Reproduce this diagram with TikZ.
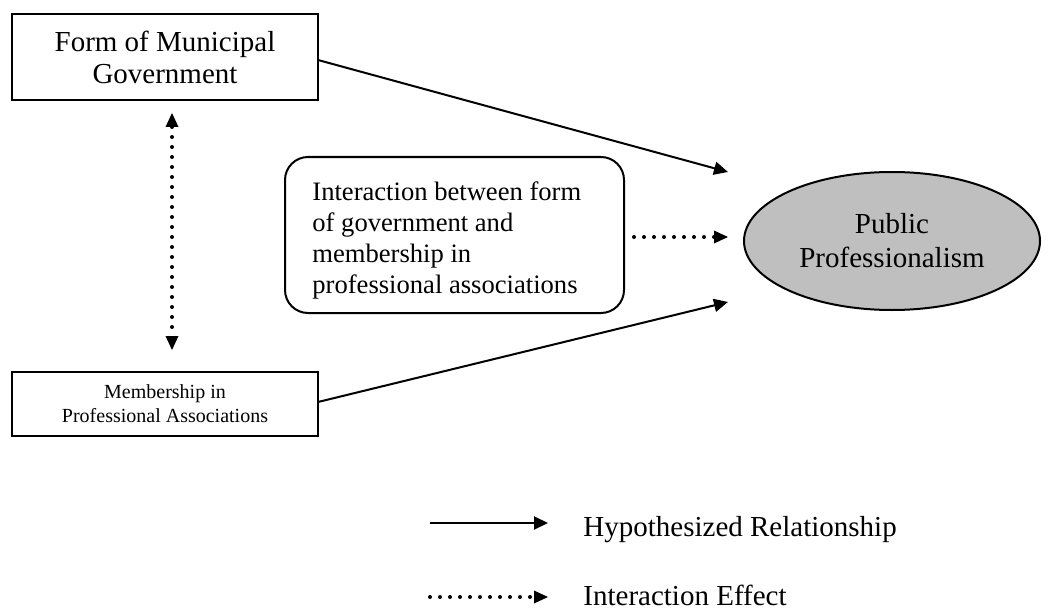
\documentclass[tikz,border=0pt]{standalone}
\usepackage{fontspec}
\setmainfont{Liberation Serif}
\usetikzlibrary{arrows.meta,shapes.geometric}
\tikzset{dottip/.tip={Triangle[length=7pt,width=6.5pt,line width=0pt]}}
\begin{document}
\begin{tikzpicture}[x=0.5pt,y=-0.5pt,
  box/.style={draw,line width=1pt,minimum width=153pt,inner sep=0pt,align=center},
  rel/.style={line width=1pt,-{Triangle[length=7pt,width=6.5pt]}},
  inter/.style={line width=2pt,line cap=round,dash pattern=on 0pt off 5pt,-{dottip}},
  bigtext/.style={font=\fontsize{14.5}{16}\selectfont},
]
\useasboundingbox (0,0) rectangle (1060,610);

% variables
\node[box,minimum height=43pt,bigtext] (form) at (165,57)
  {Form of Municipal\\Government};
\node[box,minimum height=32pt,font=\fontsize{10}{12}\selectfont] (member) at (165,404)
  {Membership in\\Professional Associations};

% interaction term: rounded frame plus its left-aligned text
\node[draw,line width=1pt,rounded corners=11.5pt,minimum width=169.5pt,minimum height=78pt,
  inner sep=0pt] (interact) at (454.5,235) {};
\node[anchor=north west,inner sep=0pt,align=left,font=\fontsize{13.3}{15.5}\selectfont]
  (interacttext) at (312,181)
  {Interaction between form\\of government and\\membership in\\professional associations};

\node[ellipse,draw,line width=1pt,fill=black!25,minimum width=148pt,minimum height=69pt,
  inner sep=0pt,align=center,font=\fontsize{14.5}{17}\selectfont] (pp) at (892,241)
  {Public\\Professionalism};

% arrow end points
\coordinate (formout) at (318,60);
\coordinate (memout) at (318,402);
\coordinate (tipA) at (728,172);
\coordinate (tipB) at (728,302);
\coordinate (tipC) at (728,237);
\coordinate (intout) at (634,237);
\coordinate (vtop) at (172,113);
\coordinate (vbot) at (172,350);

\draw[rel] (formout) -- (tipA);
\draw[rel] (memout) -- (tipB);
\draw[inter] (intout) -- (tipC);
\draw[inter,{dottip}-{dottip}] (vtop) -- (vbot);

% legend
\coordinate (la1) at (430,523);
\coordinate (la2) at (548,523);
\coordinate (lb1) at (430,597);
\coordinate (lb2) at (548,597);
\draw[rel] (la1) -- (la2);
\draw[inter] (lb1) -- (lb2);
\node[anchor=base west,inner sep=0pt,bigtext] (lega) at (583,536) {Hypothesized Relationship};
\node[anchor=base west,inner sep=0pt,bigtext] (legb) at (583,605) {Interaction Effect};
\end{tikzpicture}
\end{document}
